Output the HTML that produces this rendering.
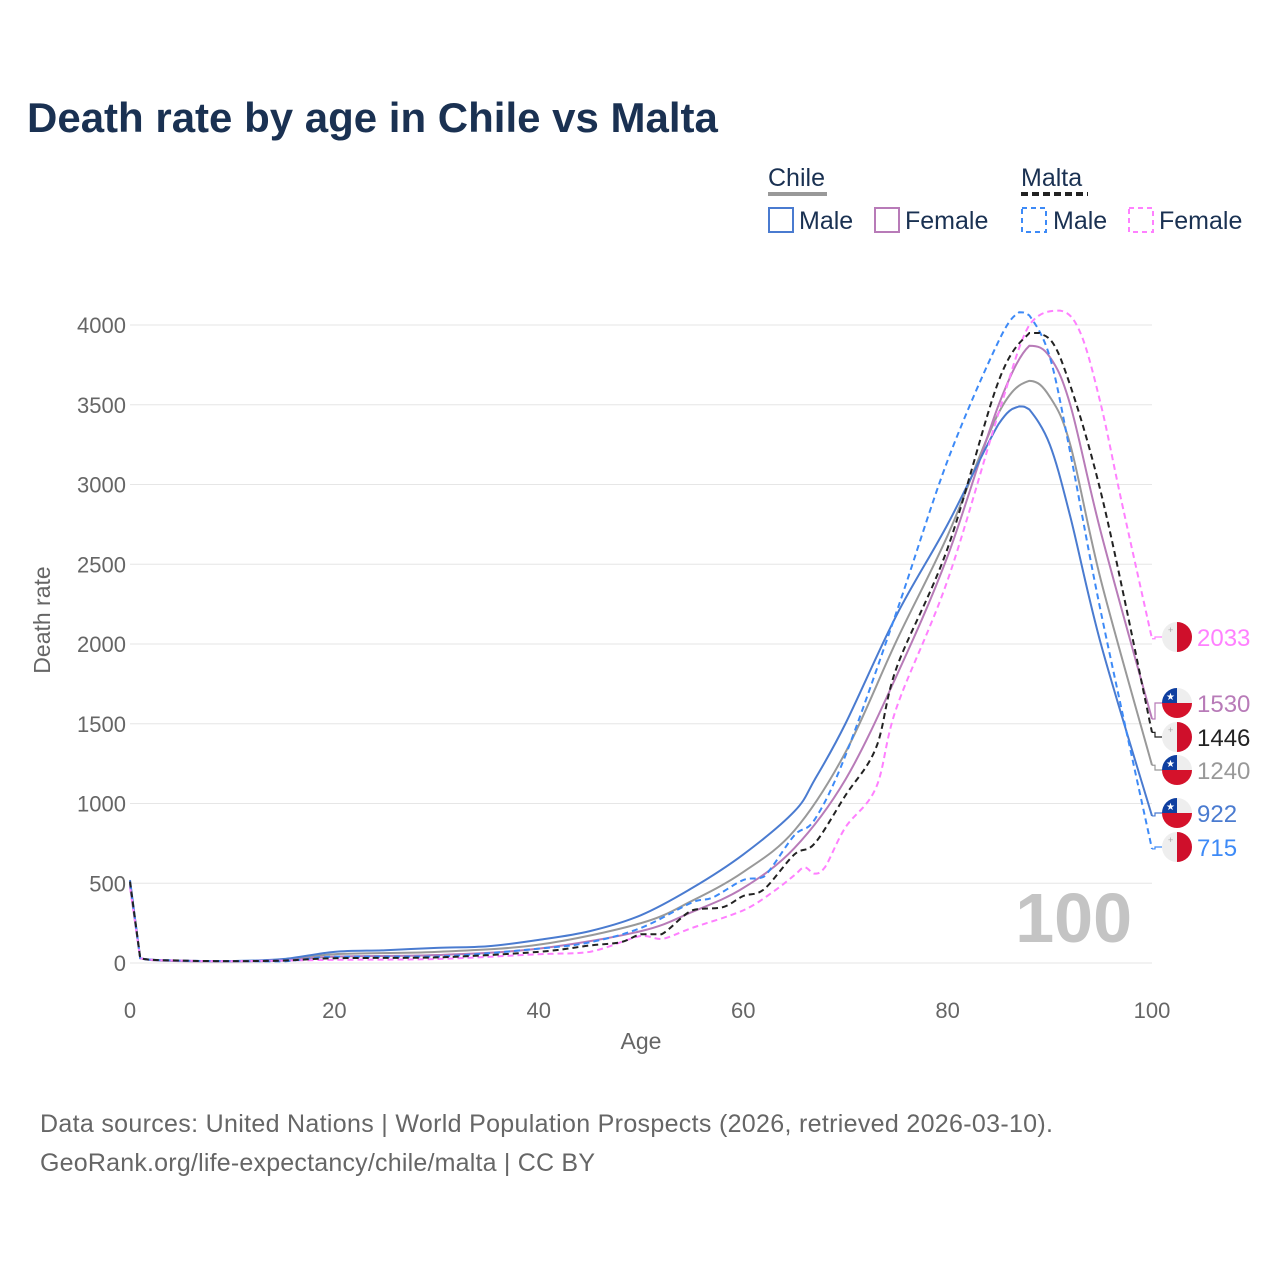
<!DOCTYPE html>
<html><head><meta charset="utf-8"><style>
body{margin:0;background:#fff;font-family:"Liberation Sans",sans-serif}
svg text{font-family:"Liberation Sans",sans-serif}
</style></head><body>
<svg id="c" width="1280" height="1280" viewBox="0 0 1280 1280">
<text x="27" y="132" font-size="42" font-weight="bold" fill="#1a3152">Death rate by age in Chile vs Malta</text>
<g>
<text x="768" y="186" font-size="25" fill="#1a3152">Chile</text>
<rect x="768" y="192" width="59" height="4" fill="#999"/>
<text x="1021" y="186" font-size="25" fill="#1a3152">Malta</text>
<line x1="1021" y1="194" x2="1088" y2="194" stroke="#222" stroke-width="4" stroke-dasharray="7,4"/>
<g><rect x="769" y="208" width="24" height="24" fill="none" stroke="#4a7bd0" stroke-width="2"/><text x="799" y="229" font-size="25" fill="#1a3152">Male</text></g>
<g><rect x="875" y="208" width="24" height="24" fill="none" stroke="#b87bb8" stroke-width="2"/><text x="905" y="229" font-size="25" fill="#1a3152">Female</text></g>
<g><rect x="1022" y="208" width="24" height="24" fill="none" stroke="#3d8af7" stroke-width="2" stroke-dasharray="5,4"/><text x="1053" y="229" font-size="25" fill="#1a3152">Male</text></g>
<g><rect x="1129" y="208" width="24" height="24" fill="none" stroke="#ff80ff" stroke-width="2" stroke-dasharray="5,4"/><text x="1159" y="229" font-size="25" fill="#1a3152">Female</text></g>
</g>
<g id="grid"></g>
<text x="1132" y="942" font-size="70" font-weight="bold" fill="#c4c4c4" text-anchor="end">100</text>
<g id="series"></g>
<g id="labels"></g>
<text x="641" y="1049" font-size="23" fill="#666" text-anchor="middle">Age</text>
<text transform="translate(50,620) rotate(-90)" font-size="23" fill="#666" text-anchor="middle">Death rate</text>
<text x="40" y="1132" font-size="25" fill="#666" textLength="1013">Data sources: United Nations | World Population Prospects (2026, retrieved 2026-03-10).</text>
<text x="40" y="1171" font-size="25" fill="#666" textLength="555">GeoRank.org/life-expectancy/chile/malta | CC BY</text>
</svg>
<script>
const yTicks=[0,500,1000,1500,2000,2500,3000,3500,4000];
const xTicks=[0,20,40,60,80,100];
const cmAges=[0,1,5,10,15,20,25,30,35,40,45,50,55,60,65,67,70,75,80,85,87,88,90,92,95,100];
const cmVals=[520,30,15,12,25,70,80,95,105,145,200,300,470,680,950,1150,1500,2180,2750,3380,3490,3470,3250,2800,2000,922];
const cfAges=[0,1,5,10,15,20,30,40,50,55,60,65,70,75,80,85,88,90,92,95,100];
const cfVals=[480,30,12,10,15,40,50,90,200,320,470,720,1150,1800,2550,3500,3870,3800,3500,2700,1530];
const ctAges=[0,1,5,10,15,20,30,40,50,55,60,65,70,75,80,85,88,90,92,95,100];
const ctVals=[500,30,14,11,20,55,70,115,250,390,570,830,1320,2020,2680,3450,3650,3550,3250,2400,1240];
const mmAges=[0,1,5,10,15,20,30,40,45,50,55,57,60,62,65,67,70,75,80,85,87,88,90,92,95,100];
const mmVals=[500,30,15,12,10,40,40,90,130,220,380,410,520,540,800,900,1300,2200,3150,3900,4080,4060,3800,3200,2200,715];
const mfAges=[0,1,5,10,15,20,30,40,45,50,52,55,60,63,65,66,67,68,70,73,75,80,85,88,91,93,95,97,100];
const mfVals=[480,30,15,12,15,20,25,55,70,170,150,220,330,450,550,600,560,600,850,1100,1600,2400,3450,4000,4090,3950,3500,2900,2033];
const mtAges=[0,1,5,10,15,20,30,40,45,48,50,52,55,58,60,62,65,67,70,73,75,80,85,88,89,91,95,100];
const mtVals=[510,30,15,12,15,30,35,70,110,130,180,180,330,350,420,460,680,750,1050,1350,1850,2600,3650,3950,3950,3800,2950,1446];
const X=a=>130+a*10.22, Y=v=>963-v*0.1595;
const NS='http://www.w3.org/2000/svg';
function mk(t,at,p){const e=document.createElementNS(NS,t);for(const k in at)e.setAttribute(k,at[k]);p.appendChild(e);return e;}
const grid=document.getElementById('grid');
yTicks.forEach(v=>{const l=mk('line',{x1:130,x2:1152,y1:Y(v),y2:Y(v),stroke:'#e6e6e6','stroke-width':1},grid);


const t=mk('text',{x:126,y:Y(v)+8,'font-size':22,fill:'#666','text-anchor':'end'},grid);t.textContent=v;

});
xTicks.forEach(a=>{const t=mk('text',{x:X(a),y:1018,'font-size':22,fill:'#666','text-anchor':'middle'},grid);t.textContent=a;

});
const cl=(v,a,b)=>Math.max(Math.min(a,b),Math.min(Math.max(a,b),v));
function path(ag,vs){const p=ag.map((a,i)=>[X(a),Y(vs[i])]);let d='M'+p[0][0]+','+p[0][1];
for(let i=0;i<p.length-1;i++){const p0=p[Math.max(0,i-1)],p1=p[i],p2=p[i+1],p3=p[Math.min(p.length-1,i+2)];
let c1=[p1[0]+(p2[0]-p0[0])/6,cl(p1[1]+(p2[1]-p0[1])/6,p1[1],p2[1])],c2=[p2[0]-(p3[0]-p1[0])/6,cl(p2[1]-(p3[1]-p1[1])/6,p1[1],p2[1])];
if(i===0){c1=[p1[0],p1[1]];c2=[p2[0],p2[1]];}
d+=` C${c1[0]},${c1[1]} ${c2[0]},${c2[1]} ${p2[0]},${p2[1]}`;}return d;}
const S=[
['series-chile-total',ctAges,ctVals,'#999','',1240,770,'#999','cl'],
['series-chile-female',cfAges,cfVals,'#b87bb8','',1530,703,'#b87bb8','cl'],
['series-chile-male',cmAges,cmVals,'#4a7bd0','',922,813,'#4a7bd0','cl'],
['series-malta-female',mfAges,mfVals,'#ff80ff','6,4',2033,637,'#ff80ff','mt'],
['series-malta-male',mmAges,mmVals,'#3d8af7','6,4',715,847,'#3d8af7','mt'],
['series-malta-total',mtAges,mtVals,'#222','6,4',1446,737,'#222','mt']];
const sg=document.getElementById('series'),lg=document.getElementById('labels');
S.forEach(s=>{const e=mk('path',{d:path(s[1],s[2]),fill:'none',stroke:s[3],'stroke-width':2,'stroke-dasharray':s[4]},sg);


const v=s[2][s[2].length-1];
mk('path',{d:`M1152,${Y(v)} L1155,${Y(v)} L1155,${s[6]} L1162,${s[6]}`,fill:'none',stroke:s[3],'stroke-width':1.2},lg);
const g=mk('g',{},lg);


const cx=1177,cy=s[6];
mk('circle',{cx,cy,r:15,fill:'#eee'},g);
if(s[8]==='mt'){mk('path',{d:`M${cx},${cy-15} A15,15 0 0 1 ${cx},${cy+15} Z`,fill:'#cf0f2b'},g);
mk('text',{x:cx-9,y:cy-4,'font-size':9,fill:'#aaa'},g).textContent='+';}
else{mk('path',{d:`M${cx-15},${cy} A15,15 0 0 0 ${cx+15},${cy} Z`,fill:'#d5122b'},g);
mk('path',{d:`M${cx-15},${cy} A15,15 0 0 1 ${cx},${cy-15} L${cx},${cy} Z`,fill:'#0f3fa0'},g);
mk('text',{x:cx-11,y:cy-3,'font-size':10,fill:'#fff'},g).textContent='★';}
const t=mk('text',{x:1197,y:s[6]+9,'font-size':24,fill:s[7]},g);t.textContent=v;});
</script>
</body></html>
